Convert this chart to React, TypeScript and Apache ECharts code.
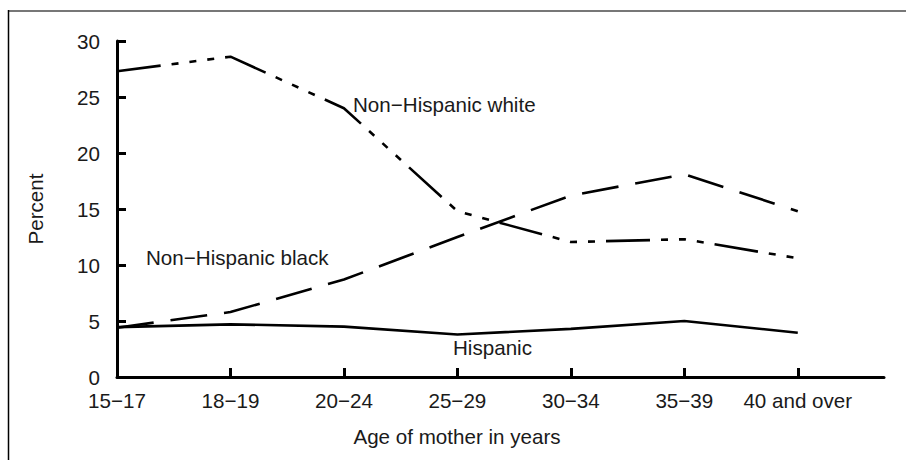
import React, { useEffect, useRef } from "react";
import * as echarts from "echarts";

const categories = ["15−17", "18−19", "20−24", "25−29", "30−34", "35−39", "40 and over"];
const yTicks = [0, 5, 10, 15, 20, 25, 30];
const hispanic = [4.45, 4.7, 4.5, 3.8, 4.3, 5.0, 3.95];
const nhWhite = [27.3, 28.6, 24.0, 14.8, 12.05, 12.3, 10.6];
const nhBlack = [4.4, 5.8, 8.7, 12.5, 16.2, 18.1, 14.8];
const seriesNames = ["Hispanic", "Non−Hispanic white", "Non−Hispanic black"];
const xTitle = "Age of mother in years";
const yTitle = "Percent";

const FONT = "'Liberation Sans', Arial, Helvetica, sans-serif";
const FS = 20.6;
const TXT = "#1a1a1a";

export default function App() {
  const ref = useRef<HTMLDivElement>(null);
  useEffect(() => {
    if (!ref.current) return;
    const chart = echarts.init(ref.current, undefined, { renderer: "svg" });
    const idx = categories.map((_, i) => i);
    const toPts = (arr: number[]) => arr.map((v, i) => [i, v]);
    const font = `${FS}px ${FONT}`;
    const option: any = {
      animation: false,
      backgroundColor: "#ffffff",
      grid: { left: 117, top: 41, right: 22, bottom: 83, containLabel: false, outerBoundsMode: "none" },
      xAxis: {
        type: "value",
        min: 0,
        max: 6.76,
        splitLine: { show: false },
        axisLine: { show: true, onZero: false, lineStyle: { color: "#000", width: 3 } },
        axisTick: { show: true, inside: true, length: 9, customValues: idx, lineStyle: { color: "#000", width: 3 } },
        axisLabel: {
          customValues: idx,
          margin: 13,
          fontSize: FS,
          fontFamily: FONT,
          color: TXT,
          formatter: (v: number) => categories[Math.round(v)] ?? "",
        },
      },
      yAxis: {
        type: "value",
        min: 0,
        max: 30,
        interval: 5,
        splitLine: { show: false },
        axisLine: { show: true, lineStyle: { color: "#000", width: 3 } },
        axisTick: { show: true, inside: true, length: 9, customValues: yTicks, lineStyle: { color: "#000", width: 3 } },
        axisLabel: { margin: 17, fontSize: FS, fontFamily: FONT, color: TXT, customValues: yTicks },
      },
      series: [
        {
          name: seriesNames[0],
          type: "line",
          data: toPts(hispanic),
          symbol: "none",
          lineStyle: { color: "#000", width: 2.6, type: "solid" },
        },
        {
          name: seriesNames[1],
          type: "line",
          data: toPts(nhWhite),
          symbol: "none",
          lineStyle: { color: "#000", width: 2.6, type: [44, 11, 7, 11, 7, 11, 7, 11] },
        },
        {
          name: seriesNames[2],
          type: "line",
          data: toPts(nhBlack),
          symbol: "none",
          lineStyle: { color: "#000", width: 2.6, type: [37, 17] },
        },
      ],
      graphic: [
        { type: "line", shape: { x1: 8, y1: 11, x2: 906, y2: 11 }, style: { stroke: "#777", lineWidth: 2 } },
        { type: "line", shape: { x1: 8.5, y1: 10, x2: 8.5, y2: 460 }, style: { stroke: "#000", lineWidth: 1.5 } },
        {
          type: "text",
          x: 353,
          y: 104,
          style: { text: seriesNames[1], font, fill: TXT, align: "left", verticalAlign: "middle" },
        },
        {
          type: "text",
          x: 146,
          y: 257,
          style: { text: seriesNames[2], font, fill: TXT, align: "left", verticalAlign: "middle" },
        },
        {
          type: "text",
          x: 453,
          y: 347,
          style: { text: seriesNames[0], font, fill: TXT, align: "left", verticalAlign: "middle" },
        },
        {
          type: "text",
          x: 457,
          y: 436,
          style: { text: xTitle, font, fill: TXT, align: "center", verticalAlign: "middle" },
        },
        {
          type: "text",
          x: 35,
          y: 209,
          rotation: Math.PI / 2,
          style: { text: yTitle, font, fill: TXT, align: "center", verticalAlign: "middle" },
        },
      ],
    };
    chart.setOption(option);
    return () => chart.dispose();
  }, []);
  return (
    <div
      ref={ref}
      style={{ position: "fixed", left: 0, top: 0, width: 906, height: 460, background: "#fff" }}
    />
  );
}
